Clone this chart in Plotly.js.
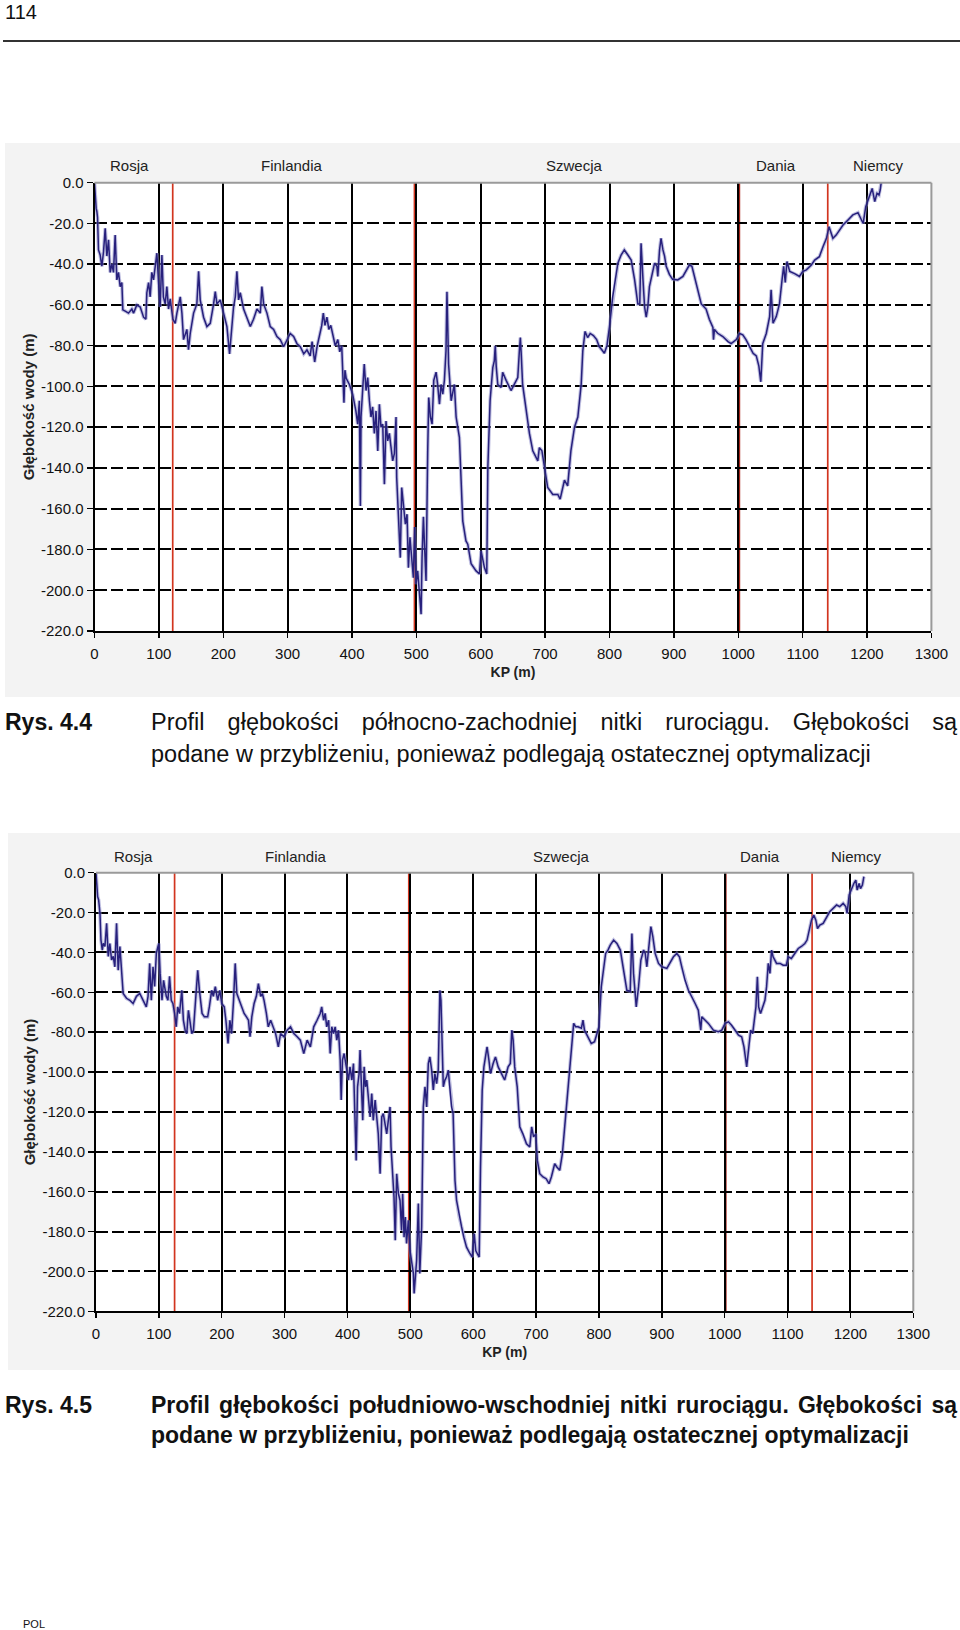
<!DOCTYPE html>
<html><head><meta charset="utf-8">
<script src="https://cdn.plot.ly/plotly-3.0.1.min.js"></script>
<style>
body{margin:0;width:960px;height:1630px;position:relative;background:#fff;font-family:"Liberation Sans",Arial,sans-serif;color:#111;overflow:hidden}
.bg{position:absolute;background:#f3f3f3}
#plot{position:absolute;left:0;top:0;width:960px;height:1630px}
.t{position:absolute;white-space:nowrap}
.cap{position:absolute;left:151px;width:806px;line-height:30px;white-space:nowrap}
.just{text-align:justify;text-align-last:justify}
.rys{position:absolute;left:5px;font-weight:bold;font-size:23px;line-height:30px;white-space:nowrap}
</style></head><body>
<div class="t" style="left:5px;top:0px;font-size:20px;line-height:24px;">114</div>
<div style="position:absolute;left:3px;top:40px;width:957px;height:1.5px;background:#333"></div>
<div class="bg" style="left:5px;top:143px;width:955px;height:554px"></div>
<div class="bg" style="left:8px;top:833px;width:952px;height:537px"></div>
<div id="plot"></div>
<div class="rys" style="top:707px">Rys. 4.4</div>
<div class="cap just" style="top:707px;font-size:23.5px">Profil głębokości północno-zachodniej nitki rurociągu. Głębokości są</div>
<div class="cap" style="top:739px;font-size:23.5px">podane w przybliżeniu, ponieważ podlegają ostatecznej optymalizacji</div>
<div class="rys" style="top:1390px">Rys. 4.5</div>
<div class="cap just" style="top:1390px;font-size:23px;font-weight:bold">Profil głębokości południowo-wschodniej nitki rurociągu. Głębokości są</div>
<div class="cap" style="top:1420px;font-size:23px;font-weight:bold">podane w przybliżeniu, ponieważ podlegają ostatecznej optymalizacji</div>
<div class="t" style="left:23px;top:1618px;font-size:11px;line-height:13px;">POL</div>
<script>
// ---- data: north-west line (Rys. 4.4) ----
const kp1 = [0,1,2.6,3.6,4.7,6.2,8.8,11.4,14,16.6,19.2,21.8,24.4,27,29.5,32.1,34.7,37.3,39.9,42.5,44,47.7,52.8,58,60.6,65.8,71,76.2,79.8,81.3,84,86.5,89,91.7,94.3,96.9,99.5,102,104.7,107,109.8,112.4,115,117.6,121.8,125.4,128,133.2,135.8,138.3,143.5,146,148.7,153.9,159,161.7,164.2,169.4,174.6,179.8,185,187.6,190.2,195.3,200.5,205.7,209.8,213.5,216,218.7,221.2,223.8,226.4,231.6,236.8,242,247,252.3,257.5,260,262.7,267.9,273,278.2,283.4,288.6,293.8,299,304,309.3,314.5,319.7,325,330,335,338,342,346,350,353,355.4,358,361,364,367,371,374,378,381,384,386,387.5,389,391,395.9,401,406,408.8,411.4,413,414,416.6,419,421.8,424.4,427,429.5,432,434.7,437.3,440,442.5,445,447.7,450.3,452.8,455.4,458,460.6,463.2,465.8,468.4,469.4,471,473.6,475,477.2,479.8,482.9,485.5,487.6,490,492.7,495.3,497.4,499.5,502,504.7,507.3,508.8,510.9,513,515,517.6,519.2,521.8,524.4,527,530.6,533,535.8,538.3,541,543.5,546,547.5,549,550,554,559,561.7,566.8,572,577,579.8,585,592.7,598,600.5,605.7,609.3,611,614.5,618.7,621,622.5,624,626.4,631.6,634,639.4,647,652,657.5,660,661.5,663,665,675.6,680.8,688.6,691,695,701.5,704,711.9,719.7,723.3,730,735,740,745.6,750.8,756,758.5,762,766,770,775,780,784,788,792,796,800,805,810,813,818,823,828.5,833.7,839,844,847,849,852,854.5,857,859.5,862,867,870,873.6,875,877.7,880,883,885.5,888,893,898,906,914,919,924,928,932,937,942.5,950,955,960.6,961.5,963,968,976,984,989,997,1002,1007,1012,1017.6,1023,1028,1032,1035,1038,1043.5,1048.7,1051,1054,1059,1064,1068,1070.5,1073,1075.6,1080,1087.6,1095,1100,1105.7,1113.5,1118.7,1126,1131.6,1137,1141,1144,1147,1152,1157.5,1162.7,1170.5,1178,1186,1191,1194,1198,1201.5,1205,1208,1212,1215.5,1218.6,1220.5,1222];
const depth1 = [0,-8.5,-12.6,-14,-17,-33,-35.5,-41,-34,-22.4,-36,-28,-44,-40,-44,-25.7,-47.7,-44,-51,-49,-62.4,-63,-64,-62,-64,-60,-61,-66,-67,-54,-49,-56,-44,-47.7,-39.5,-34.6,-49,-61,-35.5,-56,-59.5,-51,-62,-57,-67,-69,-64,-56,-64,-77,-72,-82,-74,-64,-59.5,-43.5,-57.5,-66,-70.6,-69,-59.5,-53.4,-59.5,-57.5,-64,-70.6,-84,-70.6,-61,-56,-43.5,-57.5,-54,-62,-66,-70.6,-67,-62,-64,-51,-59.5,-64,-70.6,-72,-75.5,-77,-80.5,-77,-74,-75.5,-79,-80.5,-84,-82,-85,-78,-88,-80,-75,-70,-64,-70,-66,-72,-70,-76,-80,-77,-83,-80,-99,-108,-92,-96,-99,-103.8,-112,-118.5,-107,-158.6,-115,-104,-89,-102,-95.6,-107,-115,-110,-123,-112,-131.6,-108.7,-120,-118.5,-148,-117,-126.7,-123,-131.6,-136.5,-133,-115,-144.7,-156,-172.5,-184,-149.6,-159.4,-167.6,-162.7,-188.9,-174,-184,-193.8,-169,-197,-190.5,-200.3,-211.8,-184,-164,-180.7,-195.4,-131.6,-105.4,-115,-118.5,-97,-93,-99,-108.7,-99,-103.8,-97,-82.5,-53.5,-70,-89,-107,-99,-115,-125,-166,-175.8,-177.4,-187,-190.5,-192,-180.7,-188.9,-192,-139.8,-107,-90.7,-87.4,-80,-90,-99,-100.5,-93,-97,-102,-99,-95.6,-82.5,-76,-85,-99,-123,-131.6,-136.5,-130,-131.6,-144.7,-149.6,-153,-153,-155.3,-146,-148.8,-131.6,-120,-115,-99,-82.5,-73,-76,-74,-75,-77,-80.4,-82,-83.7,-80,-70.6,-55.9,-46,-39.5,-35.5,-33,-35.5,-38,-47.7,-59.5,-59.5,-29.7,-47.7,-61,-66,-61,-51,-44,-39.5,-41,-46,-33,-27.3,-33,-36,-41,-45,-47.4,-47.7,-46,-42.8,-40.4,-41,-46,-52.6,-59.5,-62,-67,-71,-77,-72,-73.9,-75.5,-78,-79,-77,-74,-74.7,-77,-80.4,-83.7,-85,-90,-97.7,-79,-74,-65.7,-52.6,-69,-65.7,-59.5,-47.7,-41,-49,-38.7,-43.6,-44.6,-46,-43.6,-42.8,-40.4,-38,-36.3,-31.4,-27.3,-21.6,-24.8,-27.3,-25.7,-23.2,-20.8,-18.3,-15.8,-14.7,-18.3,-20,-11.8,-8.5,-5.2,-2.8,-9.3,-5.2,-6,-3.6,0];

// ---- data: south-east line (Rys. 4.5) ----
const kp2 = [0,1,2.6,4.2,6.3,7.9,10,11.6,14.2,16.9,19.5,22,24.8,27.4,30,32.7,35.3,38,40.6,43.2,48.5,53.8,59,64.3,69.6,74.9,80,82.8,85.4,88,90.7,93.3,96,98.6,100,102,105,107.5,111.8,114.4,117,119.7,122.3,125,127.6,130,132.8,136.5,139,141.8,144.4,147,149.7,152.3,155,159,161.8,164.5,168.7,172.4,177.6,180.3,184,186.6,189.8,193.5,197,200,204,206.6,210,213,215.6,218.8,221.4,224,227.7,232,235.6,239.3,242.5,245,247.8,251.5,255,258.3,262,264.6,267.3,271,274,277.8,281.5,285.7,290,293.6,299,304,309.4,314.7,320,325,330.5,335.8,341,346.3,351.6,356.6,359,362,364.5,367,370,372.5,375,377.8,380.4,383,385.7,388.4,390,392,394.7,398,401.6,404,407,409.5,411,413.8,416,418.5,420,422,424.3,426.5,428.6,430.7,433,436,438.6,441,444,446.6,449,451.9,454.5,457,459.8,462.4,465,467.7,469.3,472,474,476,478.3,481,483.6,486,487.8,490,492,494,496.8,499.5,502,504.8,506,507.4,510,512.7,515,518,520.6,523.3,526,528.6,531,533.9,536.5,539,541.8,544.4,547,548.7,550,552.4,555,557.7,560.3,563,565.6,568,571,573.5,577.8,581.5,585,589.4,594.7,598.4,601.6,604,608,609.5,611.6,614.3,617,619.6,622,625,627.5,631.7,635.4,639.7,645,650,655.5,659,661.4,663.5,666,670,674,679,684.7,690,693,696,699.5,702,705.8,711,716,720.6,724.3,729.6,733,737.6,741.8,745.5,750.8,756,759.8,763,766.7,772,774.6,777,782.5,787.8,793,796.8,800,803.7,807.4,810.6,814.3,818,823.3,828.6,834,839,844.4,849.7,852.4,855,859.3,863,866.7,871,873.6,876.2,878.9,882.6,885.7,889.4,894.7,900,908,913,918.5,923.8,928,931.7,937,942.3,947.6,953,958,961.9,963.5,968.8,974,982,990,995.4,1000.7,1006,1011,1016.6,1022,1027,1030.7,1035,1038.6,1041.3,1044.5,1047,1049.7,1052,1054,1057,1061,1064,1066.6,1069.3,1072,1074.6,1077,1082.5,1088,1093,1098,1101,1106,1111.6,1117,1122,1127.5,1131,1134.4,1138,1141.7,1145,1147.6,1151.3,1156.6,1162,1167,1172.5,1178,1183,1188.4,1192.6,1194.7,1198,1201.6,1205.4,1208.6,1210.7,1213.8,1216,1219,1221.4];
const depth2 = [0,-7,-12,-13.7,-20.4,-33.8,-38.8,-35.5,-37,-25.4,-42,-35.5,-43.8,-42,-47.2,-25.4,-48.9,-37,-50.5,-60.6,-63,-64,-65.6,-62,-60.6,-64,-67.3,-62,-45.5,-64,-47.2,-57,-40.5,-37,-35.5,-50.5,-64,-54,-62,-64,-52,-64,-65.6,-70.6,-77.3,-67.3,-70.6,-59,-74,-79,-80.7,-69,-74,-80.7,-79,-62,-48.9,-59,-70.6,-72.3,-72.3,-67.3,-59,-62,-57.2,-64,-59,-65.6,-67.3,-74,-85.7,-74,-80.7,-64,-45.5,-60.6,-64,-67.3,-70.6,-72.3,-74,-82.3,-72.3,-65.6,-62,-55.6,-62,-60.6,-64,-70.6,-77.3,-74,-77.3,-80.7,-87.4,-80.7,-82.3,-79,-77.3,-80.7,-82.3,-84,-90.7,-84,-87.4,-77.3,-74,-70.6,-67.3,-74,-70.6,-77.3,-74,-90.7,-77.3,-80.7,-77.3,-84,-79,-94,-114,-94,-90.7,-97.4,-104,-97.4,-104,-95.7,-109,-144.3,-107.4,-100.8,-89,-105.8,-124.2,-97.4,-107.4,-104,-114,-122.5,-110.8,-124.2,-114,-122.5,-131,-151,-122.5,-120.8,-127.5,-131,-124.2,-117.5,-137.6,-151,-162.7,-184.4,-151,-161,-164.4,-179.4,-161,-182.8,-172.7,-186,-174.4,-189.5,-194.5,-201,-211,-204.5,-194.5,-166,-201,-177.7,-117.5,-107.4,-117.5,-95.7,-92.4,-99,-109,-100.8,-105.8,-99,-59,-64,-80.7,-107.4,-104,-102.4,-99,-107.4,-117.5,-120.8,-154.3,-164.4,-172.7,-177.7,-182.8,-187.8,-191,-192.8,-181,-189.5,-192,-192.8,-147.6,-109,-97.4,-90.7,-87.4,-94,-100.8,-95.7,-92.4,-97.4,-100.8,-104,-97.4,-95.7,-79,-84,-97.4,-107.4,-127.5,-131,-136,-137.6,-127.5,-132.5,-131,-144.3,-151,-152.6,-153.5,-156,-152.6,-146,-147.6,-149.3,-141,-127.5,-110.8,-90.7,-75.6,-77.3,-77.3,-78,-74,-79,-82.3,-85.7,-84.8,-80.7,-77.3,-57.2,-48.9,-40.5,-38.8,-36.3,-33.8,-35.5,-38.8,-48.9,-59,-59.5,-30.5,-50.5,-67.3,-57.2,-43.8,-38.8,-40.5,-47.2,-37,-27,-32,-40.5,-45.5,-47.2,-48,-45.5,-42.2,-40.5,-42.2,-47.2,-54,-59,-62,-65.6,-69,-79,-72.3,-74,-75.6,-79,-79.8,-79,-75.6,-74.8,-76.5,-79,-81.5,-82.3,-87.4,-97.4,-85.7,-79,-80.7,-74,-67.3,-52.2,-67.3,-70.6,-67.3,-64,-57.2,-45.5,-50.5,-38.8,-42.2,-45.5,-45.5,-46.4,-46.4,-42.2,-43,-40.5,-38,-37,-35.5,-33.8,-28,-23.8,-21.3,-23.8,-28,-26.3,-25.4,-22.1,-19.6,-17.9,-16.2,-17,-15.4,-17,-20.4,-11.2,-7.9,-5.4,-3.7,-8.7,-5.4,-8,-6.2,-2];

// ---- axes / labels ----
const xTickVals = [0,100,200,300,400,500,600,700,800,900,1000,1100,1200,1300];
const xTickText = ['0','100','200','300','400','500','600','700','800','900','1000','1100','1200','1300'];
const yTickVals = [0,-20,-40,-60,-80,-100,-120,-140,-160,-180,-200,-220];
const yTickText = ['0.0','-20.0','-40.0','-60.0','-80.0','-100.0','-120.0','-140.0','-160.0','-180.0','-200.0','-220.0'];
const countries = ['Rosja','Finlandia','Szwecja','Dania','Niemcy'];
const countryKP1 = [55,307,746,1059,1218];
const countryKP2 = [59,318,740,1056,1210];
const borderKP1 = [121.5,497,1001,1139];
const borderKP2 = [125,497.5,1001,1139];

const F = '"Liberation Sans", Arial, sans-serif';
const W = 960, H = 1630;
const px = v => v / W;
const py = v => 1 - v / H;

function xAx(domain, anchor){
  return {domain:domain, anchor:anchor, range:[0,1300], tickmode:'array', tickvals:xTickVals, ticktext:xTickText,
    ticks:'outside', ticklen:5, tickwidth:1.5, tickcolor:'#000', showline:true, linecolor:'#000', linewidth:2,
    showgrid:true, gridcolor:'#000', gridwidth:2, zeroline:false, ticklabelstandoff:3,
    tickfont:{family:F,size:15,color:'#111'},
    title:{text:'<b>KP (m)</b>', font:{family:F,size:14,color:'#222'}, standoff:6}, fixedrange:true};
}
function yAx(domain, anchor){
  return {domain:domain, anchor:anchor, range:[-220,0], tickmode:'array', tickvals:yTickVals, ticktext:yTickText,
    ticks:'outside', ticklen:6, tickwidth:1.5, tickcolor:'#000', showline:true, linecolor:'#000', linewidth:2,
    showgrid:true, gridcolor:'#000', gridwidth:2, griddash:'12px,4px', zeroline:false,
    tickfont:{family:F,size:15,color:'#111'},
    title:{text:'<b>Głębokość wody (m)</b>', font:{family:F,size:15,color:'#222'}, standoff:3}, fixedrange:true};
}
function prof(kp, d, xa, ya){
  return [
    {x:kp, y:d, xaxis:xa, yaxis:ya, type:'scatter', mode:'lines', line:{color:'rgba(140,140,200,0.55)', width:3.6}, hoverinfo:'skip'},
    {x:kp, y:d, xaxis:xa, yaxis:ya, type:'scatter', mode:'lines', line:{color:'#27207c', width:1.5}, hoverinfo:'skip'}
  ];
}
const shapes = [];
function addBorders(list, xr, yr){
  list.forEach(k => shapes.push({type:'line', xref:xr, yref:yr+' domain', x0:k, x1:k, y0:0, y1:1,
    line:{color:(k>990&&k<1010)?'#a8251a':'#d2351f', width:(k>990&&k<1010)?2.6:1.7}, layer:'below'}));
  shapes.push({type:'line', xref:xr+' domain', yref:yr+' domain', x0:0, x1:1, y0:1, y1:1, line:{color:'#9a9a9a', width:2}, layer:'above'});
  shapes.push({type:'line', xref:xr+' domain', yref:yr+' domain', x0:1, x1:1, y0:0, y1:1, line:{color:'#9a9a9a', width:2}, layer:'above'});
}
addBorders(borderKP1, 'x', 'y');
addBorders(borderKP2, 'x2', 'y2');

const annotations = [];
countries.forEach((c,i) => {
  annotations.push({xref:'x', yref:'paper', x:countryKP1[i], y:py(166), text:c, showarrow:false, yanchor:'middle', font:{family:F,size:15,color:'#222'}});
  annotations.push({xref:'x2', yref:'paper', x:countryKP2[i], y:py(857), text:c, showarrow:false, yanchor:'middle', font:{family:F,size:15,color:'#222'}});
});

const layout = {
  width:W, height:H, margin:{l:0,r:0,t:0,b:0}, showlegend:false,
  paper_bgcolor:'rgba(0,0,0,0)', plot_bgcolor:'#ffffff',
  xaxis: xAx([px(94.5), px(931.4)], 'y'),
  yaxis: yAx([py(631), py(182.7)], 'x'),
  xaxis2: xAx([px(96), px(913.3)], 'y2'),
  yaxis2: yAx([py(1311.3), py(872.7)], 'x2'),
  shapes: shapes, annotations: annotations
};
Plotly.newPlot('plot', prof(kp1, depth1, 'x', 'y').concat(prof(kp2, depth2, 'x2', 'y2')), layout, {staticPlot:true});
</script>
</body></html>
